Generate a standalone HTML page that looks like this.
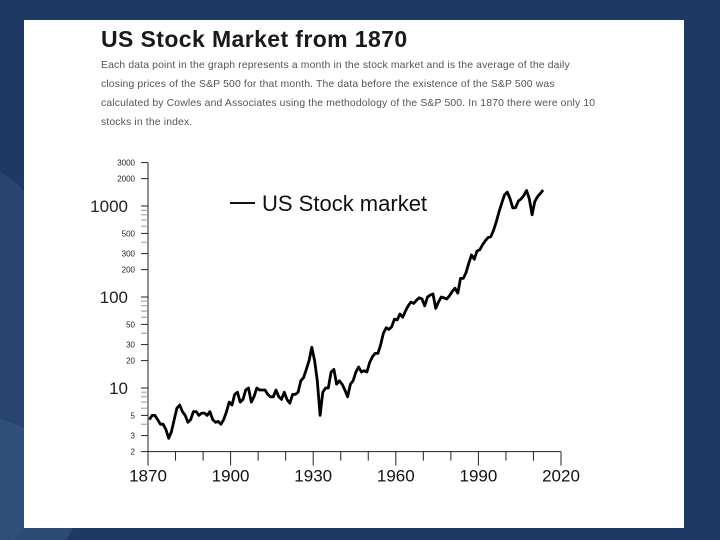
<!DOCTYPE html>
<html><head><meta charset="utf-8"><style>
html,body{margin:0;padding:0;width:720px;height:540px;overflow:hidden;background:#1d3a64;font-family:"Liberation Sans",sans-serif;position:relative;}
#bg{position:absolute;left:0;top:0;width:720px;height:540px;display:block;}
#panel{position:absolute;left:24px;top:20px;width:660px;height:508px;background:#fff;}
#title{position:absolute;left:101px;top:26px;font-size:23px;letter-spacing:0.4px;font-weight:bold;color:#1a1a1a;margin:0;white-space:nowrap;}
#desc{position:absolute;left:101px;top:56px;font-size:10.4px;line-height:19px;color:#555;margin:0;white-space:nowrap;letter-spacing:0.15px;}
#chart{position:absolute;left:0;top:0;display:block;}
</style></head><body>
<svg id="bg" width="720" height="540">
<ellipse cx="-40" cy="360" rx="120" ry="200" fill="#2e4d78" opacity="0.6"/>
<ellipse cx="-60" cy="500" rx="140" ry="90" fill="#3a5a85" opacity="0.5"/>
</svg>
<div id="panel"></div>
<h1 id="title">US Stock Market from 1870</h1>
<p id="desc">Each data point in the graph represents a month in the stock market and is the average of the daily<br>closing prices of the S&amp;P 500 for that month. The data before the existence of the S&amp;P 500 was<br>calculated by Cowles and Associates using the methodology of the S&amp;P 500. In 1870 there were only 10<br>stocks in the index.</p>
<svg id="chart" width="720" height="540"></svg>
<script>
const years=[1870,1871,1872,1873,1874,1875,1876,1877,1878,1879,1880,1881,1882,1883,1884,1885,1886,1887,1888,1889,1890,1891,1892,1893,1894,1895,1896,1897,1898,1899,1900,1901,1902,1903,1904,1905,1906,1907,1908,1909,1910,1911,1912,1913,1914,1915,1916,1917,1918,1919,1920,1921,1922,1923,1924,1925,1926,1927,1928,1929,1930,1931,1932,1933,1934,1935,1936,1937,1938,1939,1940,1941,1942,1943,1944,1945,1946,1947,1948,1949,1950,1951,1952,1953,1954,1955,1956,1957,1958,1959,1960,1961,1962,1963,1964,1965,1966,1967,1968,1969,1970,1971,1972,1973,1974,1975,1976,1977,1978,1979,1980,1981,1982,1983,1984,1985,1986,1987,1988,1989,1990,1991,1992,1993,1994,1995,1996,1997,1998,1999,2000,2001,2002,2003,2004,2005,2006,2007,2008,2009,2010,2011,2012,2013];
const prices=[4.5,5,5,4.5,4,4,3.5,2.8,3.3,4.5,6,6.5,5.5,5,4.2,4.5,5.5,5.5,5,5.3,5.3,5,5.5,4.5,4.2,4.3,4,4.5,5.5,7,6.5,8.5,9,7,7.5,9.5,10,7,8,10,9.5,9.5,9.5,8.5,8,8,9.5,8,7.5,9,7.5,6.8,8.5,8.5,9,12,13,16,20,28,20,12,5,9,10,10,15,16,11,12,11,9.5,8,11,12,15,17,15,15.5,15,19,22,24,24,30,40,46,44,47,57,56,65,60,70,80,88,85,92,98,95,80,100,105,108,75,88,100,98,95,103,115,125,110,160,160,185,235,290,260,320,330,375,415,450,460,540,670,870,1080,1330,1420,1200,950,960,1130,1200,1300,1480,1200,800,1120,1270,1380,1500];
const xTicks=[1870,1880,1890,1900,1910,1920,1930,1940,1950,1960,1970,1980,1990,2000,2010,2020];
const xLabels=[1870,1900,1930,1960,1990,2020];
const yLabels=[2,3,5,10,20,30,50,100,200,300,500,1000,2000,3000];
const yBig=[10,100,1000];
const yMinor=[4,6,7,8,9,40,60,70,80,90,400,600,700,800,900];
const NS="http://www.w3.org/2000/svg";
const svg=document.getElementById('chart');
const X0=148,Y10=388,PXY=413/150,DEC=91;
function xs(y){return X0+(y-1870)*PXY;}
function ys(v){return Y10-(Math.log10(v)-1)*DEC;}
function mk(t,a,p){const e=document.createElementNS(NS,t);for(const k in a)e.setAttribute(k,a[k]);(p||svg).appendChild(e);return e;}
const ax=mk('g',{stroke:'#222','stroke-width':1});


mk('line',{x1:X0,y1:ys(3000),x2:X0,y2:ys(2)},ax);
mk('line',{x1:X0,y1:ys(2),x2:xs(2020),y2:ys(2)},ax);
xTicks.forEach(t=>{const big=xLabels.includes(t);mk('line',{x1:xs(t),y1:ys(2),x2:xs(t),y2:ys(2)+(big?14:9)},ax);});
yLabels.forEach(v=>{mk('line',{x1:X0-7,y1:ys(v),x2:X0,y2:ys(v)},ax);});
yMinor.forEach(v=>{mk('line',{x1:X0-7,y1:ys(v),x2:X0,y2:ys(v),stroke:'#999'},ax);});
xLabels.forEach(t=>{const e=mk('text',{x:xs(t),y:ys(2)+30,'font-size':17,'text-anchor':'middle',fill:'#111'});e.textContent=t;

});
yLabels.forEach(v=>{const big=yBig.includes(v);const e=mk('text',{x:big?X0-20:X0-13,y:ys(v)+(big?6:3),'font-size':big?17:8,'text-anchor':'end',fill:'#222'});e.textContent=v;

});
const d=years.map((y,i)=>(i?'L':'M')+xs(y+0.5).toFixed(1)+','+ys(prices[i]).toFixed(1)).join('');
const ln=mk('path',{d:d,fill:'none',stroke:'#000','stroke-width':2.8,'stroke-linejoin':'round'});


const lg=mk('g',{});


mk('line',{x1:230,y1:203,x2:255,y2:203,stroke:'#111','stroke-width':2},lg);
const lt=mk('text',{x:262,y:211,'font-size':22,fill:'#111'},lg);lt.textContent='US Stock market';
</script>
</body></html>
